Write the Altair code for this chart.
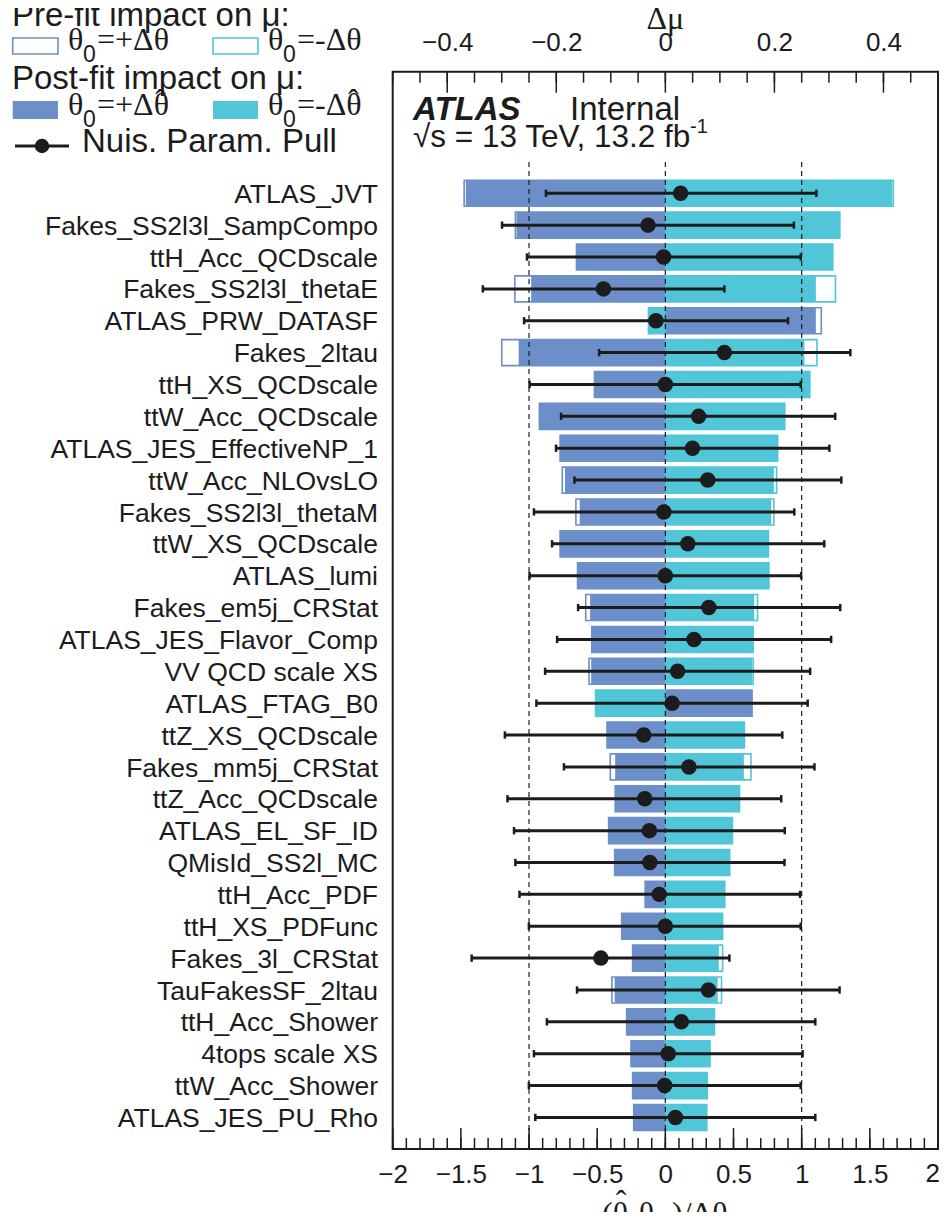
import altair as alt
import pandas as pd

# ---------------- data ----------------
names = [
    "ATLAS_JVT", "Fakes_SS2l3l_SampCompo", "ttH_Acc_QCDscale", "Fakes_SS2l3l_thetaE",
    "ATLAS_PRW_DATASF", "Fakes_2ltau", "ttH_XS_QCDscale", "ttW_Acc_QCDscale",
    "ATLAS_JES_EffectiveNP_1", "ttW_Acc_NLOvsLO", "Fakes_SS2l3l_thetaM", "ttW_XS_QCDscale",
    "ATLAS_lumi", "Fakes_em5j_CRStat", "ATLAS_JES_Flavor_Comp", "VV QCD scale XS",
    "ATLAS_FTAG_B0", "ttZ_XS_QCDscale", "Fakes_mm5j_CRStat", "ttZ_Acc_QCDscale",
    "ATLAS_EL_SF_ID", "QMisId_SS2l_MC", "ttH_Acc_PDF", "ttH_XS_PDFunc",
    "Fakes_3l_CRStat", "TauFakesSF_2ltau", "ttH_Acc_Shower", "4tops scale XS",
    "ttW_Acc_Shower", "ATLAS_JES_PU_Rho",
]
# impact on mu (delta mu) for theta0 = +dtheta (up) and -dtheta (dn)
post_up = [-0.366, -0.273, -0.163, -0.246, 0.276, -0.269, -0.130, -0.231,
           -0.193, -0.184, -0.157, -0.193, -0.161, -0.138, -0.135, -0.136,
           0.159, -0.107, -0.092, -0.092, -0.104, -0.093, -0.037, -0.080,
           -0.060, -0.093, -0.071, -0.063, -0.060, -0.058]
post_dn = [0.416, 0.320, 0.307, 0.276, -0.031, 0.255, 0.265, 0.219,
           0.206, 0.199, 0.194, 0.189, 0.190, 0.163, 0.161, 0.159,
           -0.128, 0.145, 0.144, 0.136, 0.123, 0.118, 0.109, 0.105,
           0.098, 0.096, 0.090, 0.082, 0.077, 0.076]
pre_up = [-0.369, -0.275, -0.163, -0.276, 0.286, -0.300, -0.130, -0.231,
          -0.193, -0.189, -0.164, -0.193, -0.161, -0.146, -0.135, -0.140,
          0.159, -0.107, -0.101, -0.092, -0.104, -0.093, -0.037, -0.080,
          -0.060, -0.098, -0.071, -0.063, -0.060, -0.058]
pre_dn = [0.418, 0.320, 0.307, 0.312, -0.031, 0.278, 0.265, 0.219,
          0.206, 0.204, 0.199, 0.189, 0.190, 0.169, 0.161, 0.161,
          -0.128, 0.145, 0.157, 0.136, 0.123, 0.118, 0.109, 0.105,
          0.105, 0.103, 0.090, 0.082, 0.077, 0.076]
# pulls (theta_hat - theta0)/dtheta and their error bar ends
pull = [0.112, -0.127, -0.013, -0.454, -0.069, 0.433, 0.000, 0.244,
        0.199, 0.311, -0.011, 0.165, 0.000, 0.319, 0.210, 0.090,
        0.050, -0.159, 0.173, -0.151, -0.117, -0.114, -0.045, 0.000,
        -0.473, 0.316, 0.117, 0.021, -0.005, 0.074]
pull_lo = [-0.876, -1.198, -1.015, -1.339, -1.036, -0.486, -0.996, -0.765,
           -0.802, -0.667, -0.964, -0.831, -0.996, -0.640, -0.794, -0.882,
           -0.946, -1.177, -0.744, -1.158, -1.110, -1.100, -1.070, -1.001,
           -1.421, -0.648, -0.869, -0.964, -1.001, -0.954]
pull_hi = [1.108, 0.943, 0.993, 0.433, 0.900, 1.357, 0.993, 1.246,
           1.203, 1.291, 0.946, 1.166, 0.996, 1.283, 1.216, 1.062,
           1.044, 0.858, 1.094, 0.850, 0.876, 0.874, 0.988, 0.993,
           0.470, 1.278, 1.100, 1.007, 0.993, 1.100]

dash_x = [-1, 0, 1]
bot_major = [-2, -1.5, -1, -0.5, 0, 0.5, 1, 1.5, 2]
bot_minor = [round(-2 + 0.1 * i, 1) for i in range(41)]
top_major = [-0.4, -0.2, 0, 0.2, 0.4]
top_minor = [round(-0.5 + 0.05 * i, 2) for i in range(21)]

# ---------------- layout / style ----------------
W, H = 545.3, 1077.3
OX, OY = 392.7, 71.7
ROW_DOM = [-3.815, 29.99]
BAR_HALF = 0.408
CAP_HALF = 0.115
DASH_TOP = -0.98
BLUE = "#6C8FC9"
CYAN = "#50C6D8"
INK = "#1c1c1c"
FONT = "Liberation Sans"
SERIF = "Liberation Serif"
TICK_FS = 26
BOT_PAD = 12

rows = list(range(len(names)))
recs = []
for i in rows:
    recs.append(dict(row=i, stage="pre", side="up", val=pre_up[i]))
    recs.append(dict(row=i, stage="pre", side="dn", val=pre_dn[i]))
    recs.append(dict(row=i, stage="post", side="up", val=post_up[i]))
    recs.append(dict(row=i, stage="post", side="dn", val=post_dn[i]))
imp_df = pd.DataFrame(recs)
imp_df["zero"] = 0.0
pulls_df = pd.DataFrame({"name": names, "row": rows, "pull": pull, "lo": pull_lo, "hi": pull_hi})

y_scale = alt.Scale(domain=ROW_DOM, reverse=True, nice=False, zero=False)
mu_scale = alt.Scale(domain=[-0.5, 0.5], nice=False, zero=False)
pull_scale = alt.Scale(domain=[-2, 2], nice=False, zero=False)
side_scale = alt.Scale(domain=["up", "dn"], range=[BLUE, CYAN])

top_axis = alt.Axis(orient="top", values=top_major, format="~g", ticks=False, domain=False,
                    grid=False, labelFont=FONT, labelFontSize=TICK_FS, labelColor=INK,
                    labelPadding=16, labelFlush=False, labelOverlap=False, title=None)
# the last label ("2") is drawn separately so that it stays inside the page
bottom_axis = alt.Axis(orient="bottom", values=bot_major[:-1], format="~g", ticks=False,
                       domain=False, grid=False, labelFont=FONT, labelFontSize=TICK_FS,
                       labelColor=INK, labelPadding=BOT_PAD, labelFlush=False,
                       labelOverlap=False, title=None)

base_imp = alt.Chart(imp_df).transform_calculate(
    y0=f"datum.row - {BAR_HALF}", y1=f"datum.row + {BAR_HALF}")

pre = base_imp.transform_filter("datum.stage == 'pre'").mark_rect(
    fill="white", strokeWidth=1.6).encode(
    x=alt.X("val:Q", scale=mu_scale, axis=None), x2="zero:Q",
    y=alt.Y("y0:Q", scale=y_scale, axis=None), y2="y1:Q",
    stroke=alt.Stroke("side:N", scale=side_scale, legend=None))

post = base_imp.transform_filter("datum.stage == 'post'").mark_rect().encode(
    x=alt.X("val:Q", scale=mu_scale, axis=top_axis), x2="zero:Q",
    y=alt.Y("y0:Q", scale=y_scale, axis=None), y2="y1:Q",
    fill=alt.Fill("side:N", scale=side_scale, legend=None))

dash = alt.Chart(pd.DataFrame({"x": dash_x})).transform_calculate(
    top=str(DASH_TOP)).mark_rule(strokeDash=[5, 4], strokeWidth=1.2, color=INK).encode(
    x=alt.X("x:Q", scale=pull_scale, axis=None),
    y=alt.Y("top:Q", scale=y_scale, axis=None), y2=alt.value(H))

err = alt.Chart(pulls_df).mark_rule(strokeWidth=3, color=INK).encode(
    x=alt.X("lo:Q", scale=pull_scale, axis=None), x2="hi:Q",
    y=alt.Y("row:Q", scale=y_scale, axis=None))

caps = alt.Chart(pulls_df).transform_fold(["lo", "hi"], as_=["end", "xe"]).transform_calculate(
    c0=f"datum.row - {CAP_HALF}", c1=f"datum.row + {CAP_HALF}").mark_rule(
    strokeWidth=2.5, color=INK).encode(
    x=alt.X("xe:Q", scale=pull_scale, axis=None),
    y=alt.Y("c0:Q", scale=y_scale, axis=None), y2="c1:Q")

pts = alt.Chart(pulls_df).mark_circle(size=240, color=INK, opacity=1).encode(
    x=alt.X("pull:Q", scale=pull_scale, axis=bottom_axis),
    y=alt.Y("row:Q", scale=y_scale, axis=None))

last_label = alt.Chart(pd.DataFrame({"t": bot_major[-1:]})).mark_text(
    align="right", baseline="top", dx=2, font=FONT, fontSize=TICK_FS, color=INK).encode(
    x=alt.X("t:Q", scale=pull_scale, axis=None), y=alt.value(H + BOT_PAD),
    text=alt.Text("t:Q", format="~g"))

labels = alt.Chart(pulls_df).mark_text(
    align="right", baseline="alphabetic", dy=9.6, font=FONT, fontSize=26.5, color=INK).encode(
    x=alt.value(378 - OX), y=alt.Y("row:Q", scale=y_scale, axis=None), text="name:N")


def ticks(vals, scale, y0, y1):
    return alt.Chart(pd.DataFrame({"t": vals})).mark_rule(strokeWidth=1.5, color=INK).encode(
        x=alt.X("t:Q", scale=scale, axis=None), y=alt.value(y0), y2=alt.value(y1))


tick_layers = [
    ticks(bot_minor, pull_scale, H - 11, H),
    ticks(bot_major, pull_scale, H - 21, H),
    ticks(top_minor, mu_scale, 0, 11),
    ticks(top_major, mu_scale, 0, 21),
]

ONE = alt.Data(values=[{}])


def txt(s, px, py, size, font=FONT, align="left", **kw):
    return alt.Chart(ONE).mark_text(text=s, align=align, baseline="alphabetic", font=font,
                                    fontSize=size, color=INK, **kw).encode(
        x=alt.value(px - OX), y=alt.value(py - OY))


def box(x0, x1, y0, y1, **kw):
    return alt.Chart(ONE).mark_rect(**kw).encode(
        x=alt.value(x0 - OX), x2=alt.value(x1 - OX), y=alt.value(y0 - OY), y2=alt.value(y1 - OY))


LS = 32  # legend symbol font size
ann = [
    txt("Δμ", 665.3, 29, 32, font=SERIF, align="center"),
    txt("ATLAS", 413, 120, 33, fontWeight="bold", fontStyle="italic"),
    txt("Internal", 570, 120, 33),
    txt("√s = 13 TeV, 13.2 fb", 413, 147, 31.5),
    txt("-1", 690, 133, 20),
    # bottom axis title (clipped by the page edge as in the reference)
    txt("(θ-θ", 602, 1224, 32, font=SERIF),
    txt("0", 659, 1232, 22),
    txt(")/Δθ", 672, 1224, 32, font=SERIF),
    txt("ˆ", 621, 1212, 32, font=SERIF, align="center"),
    # legend
    txt("Pre-fit impact on μ:", 12, 26, 33),
    box(12.7, 58, 38, 54, fill="white", stroke=BLUE, strokeWidth=1.6),
    box(213, 258, 38, 54, fill="white", stroke=CYAN, strokeWidth=1.6),
    txt("θ", 68, 50, LS, font=SERIF),
    txt("0", 83, 62, 23),
    txt("=+Δθ", 97, 50, LS, font=SERIF),
    txt("θ", 268, 50, LS, font=SERIF),
    txt("0", 283, 62, 23),
    txt("=-Δθ", 297, 50, LS, font=SERIF),
    txt("Post-fit impact on μ:", 12, 89, 33),
    box(12.7, 58, 101, 119, fill=BLUE),
    box(213, 258, 101, 119, fill=CYAN),
    txt("θ", 68, 115, LS, font=SERIF),
    txt("0", 83, 127, 23),
    txt("=+Δθ", 97, 115, LS, font=SERIF),
    txt("ˆ", 97 + 1.74 * LS + 0.25 * LS, 111, LS, font=SERIF, align="center"),
    txt("θ", 268, 115, LS, font=SERIF),
    txt("0", 283, 127, 23),
    txt("=-Δθ", 297, 115, LS, font=SERIF),
    txt("ˆ", 297 + 1.509 * LS + 0.25 * LS, 111, LS, font=SERIF, align="center"),
    alt.Chart(ONE).mark_rule(strokeWidth=3, color=INK).encode(
        x=alt.value(15 - OX), x2=alt.value(69 - OX), y=alt.value(146 - OY)),
    alt.Chart(ONE).mark_circle(size=210, color=INK, opacity=1).encode(
        x=alt.value(42 - OX), y=alt.value(146 - OY)),
    txt("Nuis. Param. Pull", 82, 152, 33),
]

chart = alt.layer(pre, post, dash, err, caps, pts, last_label, labels, *tick_layers,
                  *ann).resolve_scale(x="independent").properties(
    width=W, height=H,
    autosize=alt.AutoSizeParams(type="none"),
    padding={"left": OX - 8, "top": OY - 8, "right": 2, "bottom": 63},
).configure_view(stroke=INK, strokeWidth=2)

chart.save("out.html", embed_options={"renderer": "svg", "actions": False})
